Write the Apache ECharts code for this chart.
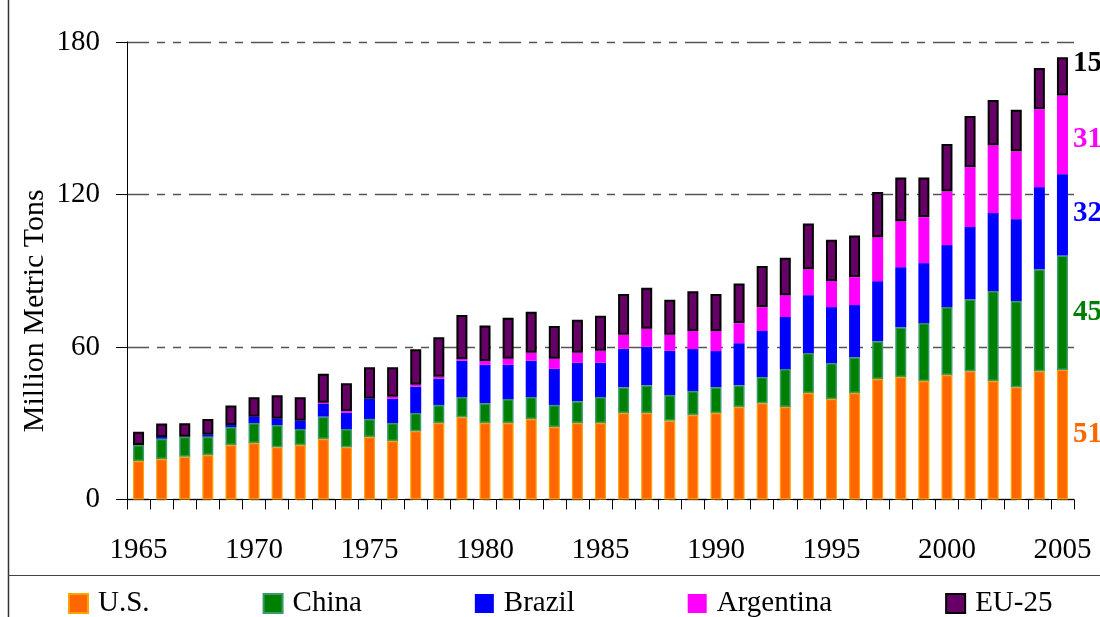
<!DOCTYPE html>
<html>
<head>
<meta charset="utf-8">
<script src="https://cdn.jsdelivr.net/npm/echarts@6/dist/echarts.min.js"></script>
<style>html,body{margin:0;padding:0;background:#fff}#c{width:1100px;height:617px}</style>
</head>
<body>
<div id="c"></div>
<script>
var years = [];
for (var y = 1965; y <= 2005; y++) years.push(String(y));

var us = [15.1,15.9,16.8,17.5,21.4,22.2,20.6,21.4,23.8,20.6,24.6,23.0,26.9,30.1,32.4,30.1,30.1,31.7,28.5,30.1,30.1,34.0,34.0,31.0,33.2,34.0,36.4,37.9,36.4,41.9,39.5,41.9,47.4,48.2,46.6,49.0,50.5,46.6,44.2,50.5,51];
var china = [6.3,8.0,7.9,7.2,7.1,7.9,8.7,6.3,8.8,7.1,7.1,7.1,7.1,7.1,7.9,7.8,9.4,8.6,8.7,8.6,10.2,10.2,11.0,10.1,9.5,10.2,8.6,10.3,14.9,15.7,14.2,14.1,14.9,19.6,22.8,26.7,28.3,35.4,33.9,40.1,45];
var brazil = [0,0.7,0,0.8,0.8,2.5,2.5,3.3,5.0,6.4,7.9,9.5,10.4,10.3,14.3,15.1,13.5,14.3,14.2,15.1,13.5,15.1,15.1,17.4,16.5,14.2,16.5,18.1,20.5,22.8,22.0,20.5,23.6,23.6,23.6,24.4,28.4,30.7,32.2,32.3,32];
var argentina = [0,0,0,0,0,0,0,0,0.5,0.7,0,0.8,0.7,0.8,0.7,1.5,2.4,3.1,4.0,3.9,4.7,5.5,7.1,6.3,7.1,7.9,7.9,9.4,8.6,10.2,10.3,11.0,17.3,18.1,18.1,21.2,23.6,26.7,26.7,30.7,31];
var eu25 = [5.3,5.3,5.3,6.2,7.7,7.6,9.2,9.2,11.4,10.9,12.4,11.6,14.0,15.5,17.3,14.0,16.1,16.2,12.9,13.0,13.8,16.1,16.1,13.8,15.6,14.6,15.6,16.2,14.7,18.0,16.2,16.4,17.8,17.2,15.6,18.6,20.1,17.8,16.3,16.2,15];

var seriesNames = ['U.S.', 'China', 'Brazil', 'Argentina', 'EU-25'];
var yMin = 0, yMax = 180, yStep = 60;

var FONT = '"Liberation Serif", "Times New Roman", serif';

function withEndLabel(arr, color, offset) {
  var last = arr.length - 1;
  return arr.map(function (v, i) {
    if (i !== last) return v;
    return {
      value: v,
      label: {
        show: true, position: 'right', distance: 5, offset: offset,
        color: color, fontFamily: FONT, fontSize: 29, fontWeight: 'bold',
        formatter: function (p) { return Math.round(p.value); }
      }
    };
  });
}

var styles = [
  {fill: '#FF6600', border: '#FFA200', bw: 1.2, lab: '#FF6600', off: [0, 0]},
  {fill: '#008000', border: '#3A9A6A', bw: 1.5, lab: '#008000', off: [0, 0]},
  {fill: '#0000FF', border: '#0000FF', bw: 0, lab: '#0000FF', off: [0, -1]},
  {fill: '#FF00FF', border: '#FF00FF', bw: 0, lab: '#FF00FF', off: [0, 5]},
  {fill: '#660066', border: '#000000', bw: 2, lab: '#000000', off: [0, -13]}
];
var dataSets = [us, china, brazil, argentina, eu25];

var series = dataSets.map(function (d, k) {
  var s = styles[k];
  return {
    name: seriesNames[k],
    type: 'bar',
    stack: 'total',
    barWidth: 11,
    data: withEndLabel(d, s.lab, s.off),
    itemStyle: {color: s.fill, borderColor: s.border, borderWidth: s.bw},
    emphasis: {disabled: true},
    animation: false
  };
});

var chart = echarts.init(document.getElementById('c'));
chart.setOption({
  animation: false,
  backgroundColor: '#ffffff',
  textStyle: {fontFamily: FONT},
  grid: {left: 127, right: 26, top: 42, bottom: 117.5, containLabel: false},
  legend: {
    data: seriesNames,
    left: 63, top: 584,
    itemWidth: 19, itemHeight: 19,
    itemGap: 113,
    icon: 'rect',
    textStyle: {fontFamily: FONT, fontSize: 29, color: '#000', padding: [0, 0, 0, 5]},
    selectedMode: false
  },
  xAxis: {
    type: 'category',
    data: years,
    boundaryGap: true,
    axisLine: {show: true, lineStyle: {color: '#000', width: 1}},
    axisTick: {show: true, interval: 0, length: 10, lineStyle: {color: '#000'}},
    axisLabel: {interval: 4, margin: 36, fontFamily: FONT, fontSize: 29, color: '#000'},
    splitLine: {show: false}
  },
  yAxis: {
    type: 'value',
    min: yMin, max: yMax, interval: yStep,
    name: 'Million Metric Tons',
    nameLocation: 'middle',
    nameGap: 77,
    nameMoveOverlap: false,
    nameTextStyle: {fontFamily: FONT, fontSize: 30, color: '#000', padding: [0, 80, 0, 0]},
    axisLine: {show: true, lineStyle: {color: '#000', width: 1}},
    axisTick: {show: true, length: 11, lineStyle: {color: '#000'}},
    axisLabel: {margin: 27, fontFamily: FONT, fontSize: 29, color: '#000'},
    splitLine: {show: true, lineStyle: {color: '#555', width: 1.3, type: [22, 8, 8, 8, 8, 8]}}
  },
  graphic: [
    {type: 'line', shape: {x1: 8.5, y1: 0, x2: 8.5, y2: 617}, style: {stroke: '#333', lineWidth: 1.5}, silent: true},
    {type: 'line', shape: {x1: 8, y1: 575.5, x2: 1100, y2: 575.5}, style: {stroke: '#444', lineWidth: 1.2}, silent: true}
  ],
  series: series
});
</script>
</body>
</html>
